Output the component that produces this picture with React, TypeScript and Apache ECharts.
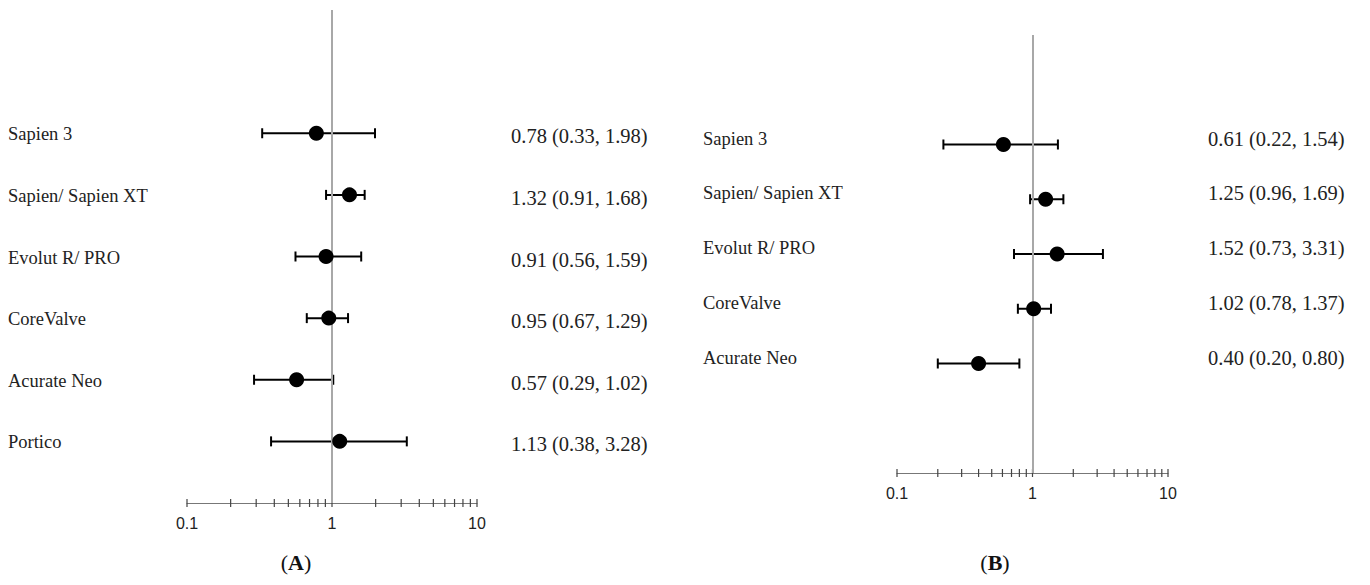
import React, { useEffect, useRef } from "react";
import * as echarts from "echarts";

const namesA = ["Sapien 3", "Sapien/ Sapien XT", "Evolut R/ PRO", "CoreValve", "Acurate Neo", "Portico"];
const estA = [0.78, 1.32, 0.91, 0.95, 0.57, 1.13];
const loA = [0.33, 0.91, 0.56, 0.67, 0.29, 0.38];
const hiA = [1.98, 1.68, 1.59, 1.29, 1.02, 3.28];

const namesB = ["Sapien 3", "Sapien/ Sapien XT", "Evolut R/ PRO", "CoreValve", "Acurate Neo"];
const estB = [0.61, 1.25, 1.52, 1.02, 0.4];
const loB = [0.22, 0.96, 0.73, 0.78, 0.2];
const hiB = [1.54, 1.69, 3.31, 1.37, 0.8];

const tickValues = [0.1, 0.2, 0.3, 0.4, 0.5, 0.6, 0.7, 0.8, 0.9, 1, 2, 3, 4, 5, 6, 7, 8, 9, 10];
const tickLabels = ["0.1", "1", "10"];

const SERIF = "'Liberation Serif', 'DejaVu Serif', serif";
const SANS = "'Liberation Sans', Arial, sans-serif";
const Y_MIN = -2;
const Y_MAX = 6;

function panelSeries(
  idx: number,
  names: string[],
  est: number[],
  lo: number[],
  hi: number[],
  nameX: number,
  valueX: number,
  nameDy: number,
  valueDy: number
) {
  return [
    {
      type: "scatter",
      xAxisIndex: idx,
      yAxisIndex: idx,
      symbol: "circle",
      symbolSize: 15,
      itemStyle: { color: "#000", opacity: 1 },
      z: 5,
      data: est.map((v, i) => [v, i]),
      markLine: {
        silent: true,
        symbol: "none",
        label: { show: false },
        lineStyle: { color: "#a8a8a8", width: 2, type: "solid" },
        data: [{ xAxis: 1 }],
      },
    },
    {
      type: "custom",
      xAxisIndex: idx,
      yAxisIndex: idx,
      clip: false,
      z: 4,
      data: est.map((v, i) => [v, lo[i], hi[i], i]),
      renderItem: (params: any, api: any) => {
        const i = api.value(3);
        const pL = api.coord([api.value(1), i]);
        const pH = api.coord([api.value(2), i]);
        const y = pL[1];
        const cap = 5;
        const ls = { stroke: "#000", lineWidth: 2 };
        const e = api.value(0);
        const txt = `${e.toFixed(2)} (${api.value(1).toFixed(2)}, ${api.value(2).toFixed(2)})`;
        return {
          type: "group",
          children: [
            { type: "line", shape: { x1: pL[0], y1: y, x2: pH[0], y2: y }, style: ls },
            { type: "line", shape: { x1: pL[0], y1: y - cap, x2: pL[0], y2: y + cap }, style: ls },
            { type: "line", shape: { x1: pH[0], y1: y - cap, x2: pH[0], y2: y + cap }, style: ls },
            {
              type: "text",
              x: nameX,
              y: y + nameDy,
              style: {
                text: names[params.dataIndex],
                font: `18.5px ${SERIF}`,
                fill: "#222",
                textAlign: "left",
                textVerticalAlign: "middle",
              },
            },
            {
              type: "text",
              x: valueX,
              y: y + valueDy,
              style: {
                text: txt,
                font: `20.5px ${SERIF}`,
                fill: "#222",
                textAlign: "left",
                textVerticalAlign: "middle",
              },
            },
          ],
        };
      },
    },
    {
      type: "custom",
      xAxisIndex: idx,
      yAxisIndex: idx,
      clip: false,
      z: 3,
      data: tickValues.map((v) => [v]),
      renderItem: (params: any, api: any) => {
        const p = api.coord([api.value(0), Y_MAX]);
        return {
          type: "line",
          shape: { x1: p[0], y1: p[1] - 4, x2: p[0], y2: p[1] + 4 },
          style: { stroke: "#444", lineWidth: 1.2 },
        };
      },
    },
  ];
}

export default function App() {
  const ref = useRef<HTMLDivElement>(null);
  useEffect(() => {
    if (!ref.current) return;
    const chart = echarts.init(ref.current, null, { renderer: "svg" });
    const xAxisBase = (gi: number) => ({
      type: "log",
      logBase: 10,
      gridIndex: gi,
      min: 0.1,
      max: 10,
      axisLine: { show: true, onZero: false, lineStyle: { color: "#777", width: 1.2 } },
      axisTick: { show: false },
      splitLine: { show: false },
      minorTick: { show: false },
      axisLabel: {
        margin: 12,
        fontFamily: SANS,
        fontSize: 16,
        color: "#222",
        formatter: (v: number) => {
          const s = String(Number(v.toPrecision(3)));
          return tickLabels.includes(s) ? s : "";
        },
      },
    });
    const yAxisBase = (gi: number) => ({
      type: "value",
      gridIndex: gi,
      min: Y_MIN,
      max: Y_MAX,
      inverse: true,
      show: false,
    });
    const caption = (x: number, letter: string) => ({
      type: "text",
      x,
      y: 554,
      style: {
        text: `({b|${letter}})`,
        font: `22px ${SERIF}`,
        fill: "#111",
        textAlign: "center",
        textVerticalAlign: "middle",
        rich: { b: { fontWeight: "bold", fontSize: 22, fontFamily: SERIF, fill: "#111" } },
      },
    });
    chart.setOption({
      animation: false,
      grid: [
        { left: 179, right: 885, top: 2, bottom: 74, containLabel: false },
        { left: 889, right: 194, top: 27, bottom: 104, containLabel: false },
      ],
      xAxis: [xAxisBase(0), xAxisBase(1)],
      yAxis: [yAxisBase(0), yAxisBase(1)],
      series: [
        ...panelSeries(0, namesA, estA, loA, hiA, 0, 503, 1, 3),
        ...panelSeries(1, namesB, estB, loB, hiB, 695, 1200, -6, -6),
      ],
      graphic: [caption(288, "A"), caption(987, "B")],
    } as any);
    return () => chart.dispose();
  }, []);
  return <div ref={ref} style={{ width: 1354, height: 569 }} />;
}
